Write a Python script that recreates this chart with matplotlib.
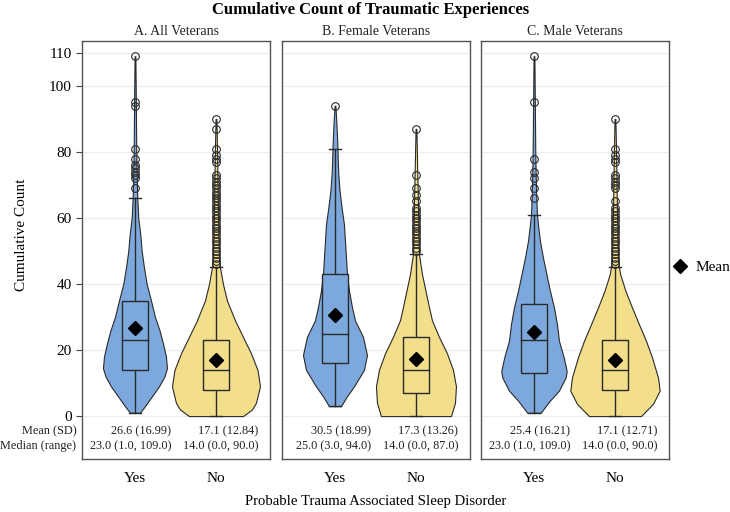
import numpy as np
import matplotlib
matplotlib.use("Agg")
import matplotlib.pyplot as plt
from matplotlib.lines import Line2D

plt.rcParams['font.family'] = ['Liberation Serif', 'DejaVu Serif']

# ---- data ----
panels = ["A. All Veterans", "B. Female Veterans", "C. Male Veterans"]
groups = ["Yes", "No"]

means = [[26.6, 17.1], [30.5, 17.3], [25.4, 17.1]]
sds = [[16.99, 12.84], [18.99, 13.26], [16.21, 12.71]]
medians = [[23.0, 14.0], [25.0, 14.0], [23.0, 14.0]]
mins = [[1.0, 0.0], [3.0, 0.0], [1.0, 0.0]]
maxs = [[109.0, 90.0], [94.0, 87.0], [109.0, 90.0]]
q1s = [[14, 8], [16, 7], [13, 8]]
q3s = [[35, 23], [43, 24], [34, 23]]
whisk_hi = [[66, 45], [81, 49], [61, 45]]

outliers_a_yes = [69, 72, 73, 74, 75, 76, 78, 81, 94, 95, 109]
outliers_a_no = [46, 47, 48, 49, 50, 51, 52, 53, 54, 55, 56, 57, 58, 59, 60,
                 61, 62, 63, 64, 65, 66, 67, 68, 69, 70, 71, 72, 73,
                 77, 78, 79, 81, 87, 90]
outliers_b_yes = [94]
outliers_b_no = [50, 51, 52, 53, 54, 55, 56, 57, 58, 59, 60, 61, 62, 63,
                 65, 67, 69, 73, 87]
outliers_c_yes = [66, 69, 72, 74, 78, 95, 109]
outliers_c_no = [46, 47, 48, 49, 50, 51, 52, 53, 54, 55, 56, 57, 58, 59, 60,
                 61, 62, 63, 65, 69, 70, 71, 72, 73, 77, 78, 79, 81, 90]
outliers = [[outliers_a_yes, outliers_a_no],
            [outliers_b_yes, outliers_b_no],
            [outliers_c_yes, outliers_c_no]]

# violin density profiles (value, relative density)
dens_a_yes_y = [1, 3, 6, 9, 12, 14.5, 18, 22, 26, 30, 35, 40, 45, 50, 55, 60, 66, 72, 80, 90, 100, 109]
dens_a_yes = [5, 10, 17, 24, 29.5, 32, 31, 28, 24.5, 20, 16, 11.7, 9, 6.7, 5.3, 3.3, 2.3, 1.8, 1.3, 1, 0.7, 0.4]
dens_a_no_y = [0, 2, 4, 9, 14, 19, 24, 29, 35, 40, 45, 50, 55, 60, 70, 80, 90]
dens_a_no = [27, 36, 40, 44, 41.5, 35, 27, 19, 11, 7, 4, 2.8, 2.4, 2.1, 1.6, 1.1, 0.4]
dens_b_yes_y = [3, 6, 9, 14, 18.5, 24, 29, 33, 38, 43, 48, 53, 58, 63, 68.5, 73.5, 78.5, 81, 85, 90, 94]
dens_b_yes = [6, 12, 19, 29, 32, 28, 20, 17, 14, 12, 11, 10, 9, 6.7, 4.5, 3.3, 2.7, 2.5, 2, 1.2, 0.4]
dens_b_no_y = [0, 4, 9, 14, 19, 24, 29, 33, 38, 43, 49, 55, 60, 65, 70, 75, 80, 87]
dens_b_no = [35, 39, 40, 37, 31, 23, 16, 13, 9.5, 6, 3, 2.5, 2.2, 2, 1.6, 1.2, 0.9, 0.4]
dens_c_yes_y = [1, 4.7, 7.7, 11.7, 13.7, 17.8, 22.8, 27.8, 32.9, 37.9, 42.9, 48, 53, 58, 61, 66, 72, 80, 90, 100, 109]
dens_c_yes = [6.7, 16, 25, 31.7, 32.7, 29.7, 25, 23, 20, 16, 12.5, 9, 6, 4, 3, 2.3, 1.8, 1.3, 1, 0.7, 0.4]
dens_c_no_y = [0, 3.7, 7.7, 11.7, 17.8, 22.8, 27.8, 32.9, 37.9, 42.9, 45, 50, 55, 60, 70, 80, 90]
dens_c_no = [26, 38, 44.7, 43, 37, 31, 24, 17, 10.5, 5.3, 4, 2.8, 2.4, 2.1, 1.6, 1.1, 0.4]
profiles = [[(dens_a_yes_y, dens_a_yes), (dens_a_no_y, dens_a_no)],
            [(dens_b_yes_y, dens_b_yes), (dens_b_no_y, dens_b_no)],
            [(dens_c_yes_y, dens_c_yes), (dens_c_no_y, dens_c_no)]]

yticks = [0, 20, 40, 60, 80, 100, 110]

# ---- styling ----
colors = ["#7da8dd", "#f2de8b"]
edge = "#2a2a2a"
dens_scale = 1 / 81.0   # density units -> category units
box_half = 0.155
cap_half = 0.075

fig = plt.figure(figsize=(7.30, 5.12), dpi=100)

lefts = [82 / 730, 282 / 730, 481 / 730]
for p in range(3):
    ax = fig.add_axes([lefts[p], 1 - 459 / 512, 188 / 730, 418 / 512])
    ax.set_xlim(0.346, 2.667)
    ax.set_ylim(-13.0, 113.6)

    for g in range(2):
        pos = g + 1
        vy, vd = profiles[p][g]
        vy = np.array(vy, dtype=float)
        vw = np.array(vd, dtype=float) * dens_scale
        ax.fill_betweenx(vy, pos - vw, pos + vw, facecolor=colors[g],
                         edgecolor=edge, linewidth=0.8, zorder=2)

        # whiskers + caps
        ax.plot([pos, pos], [mins[p][g], q1s[p][g]], color=edge, lw=1, zorder=3)
        ax.plot([pos, pos], [q3s[p][g], whisk_hi[p][g]], color=edge, lw=1, zorder=3)
        for yv in (mins[p][g], whisk_hi[p][g]):
            ax.plot([pos - cap_half, pos + cap_half], [yv, yv], color=edge, lw=1, zorder=3)

        # box
        ax.add_patch(plt.Rectangle((pos - box_half, q1s[p][g]), 2 * box_half,
                                   q3s[p][g] - q1s[p][g], facecolor=colors[g],
                                   edgecolor=edge, lw=1, zorder=3))
        ax.plot([pos - box_half, pos + box_half], [medians[p][g]] * 2, color=edge, lw=1, zorder=4)

        # outliers and mean
        ol = outliers[p][g]
        ax.plot([pos] * len(ol), ol, linestyle="None", marker="o", markersize=5.5,
                markerfacecolor="none", markeredgecolor=edge, markeredgewidth=0.8, zorder=5)
        ax.plot(pos, means[p][g], marker="D", color="black", markersize=7, zorder=6)

        # summary text under each violin
        tx = [1.45, 2.52][g]
        ax.text(tx, -4.6, "%.1f (%.2f)" % (means[p][g], sds[p][g]),
                ha="right", va="center", fontsize=8.8, color="#222222")
        ax.text(tx, -9.2, "%.1f (%.1f, %.1f)" % (medians[p][g], mins[p][g], maxs[p][g]),
                ha="right", va="center", fontsize=8.8, color="#222222")

    ax.set_yticks(yticks)
    ax.yaxis.grid(True, color="#ececec", lw=0.8)
    ax.set_axisbelow(True)
    ax.set_xticks([1, 2])
    ax.set_xticklabels(groups, fontsize=11)
    ax.tick_params(axis="x", length=0, pad=9)
    if p == 0:
        ax.tick_params(axis="y", labelsize=11, length=4, color="#444444")
        ax.text(-0.03, -4.6, "Mean (SD)", transform=ax.get_yaxis_transform(),
                ha="right", va="center", fontsize=8.8, color="#222222")
        ax.text(-0.03, -9.2, "Median (range)", transform=ax.get_yaxis_transform(),
                ha="right", va="center", fontsize=8.8, color="#222222")
    else:
        ax.tick_params(axis="y", length=0, labelleft=False)
    for s in ax.spines.values():
        s.set_color("#555555")
        s.set_linewidth(1)
    ax.set_title(panels[p], fontsize=10, pad=4, color="#222222")

fig.text(0.508, 1 - 10 / 512, "Cumulative Count of Traumatic Experiences",
         ha="center", va="center", fontsize=12, fontweight="bold")
fig.text(0.514, 1 - 501 / 512, "Probable Trauma Associated Sleep Disorder",
         ha="center", va="center", fontsize=10.6)
fig.text(22 / 730, 1 - 235 / 512, "Cumulative Count", rotation=90,
         ha="center", va="center", fontsize=11)

mean_handle = Line2D([], [], marker="D", color="black", linestyle="None", markersize=7)
fig.legend(handles=[mean_handle], labels=["Mean"], loc="center left",
           bbox_to_anchor=(668 / 730, 1 - 267 / 512), frameon=False,
           fontsize=11, handletextpad=0.6, handlelength=0.8, borderpad=0.2,
           borderaxespad=0.2)

fig.savefig("out.png", dpi=100)
